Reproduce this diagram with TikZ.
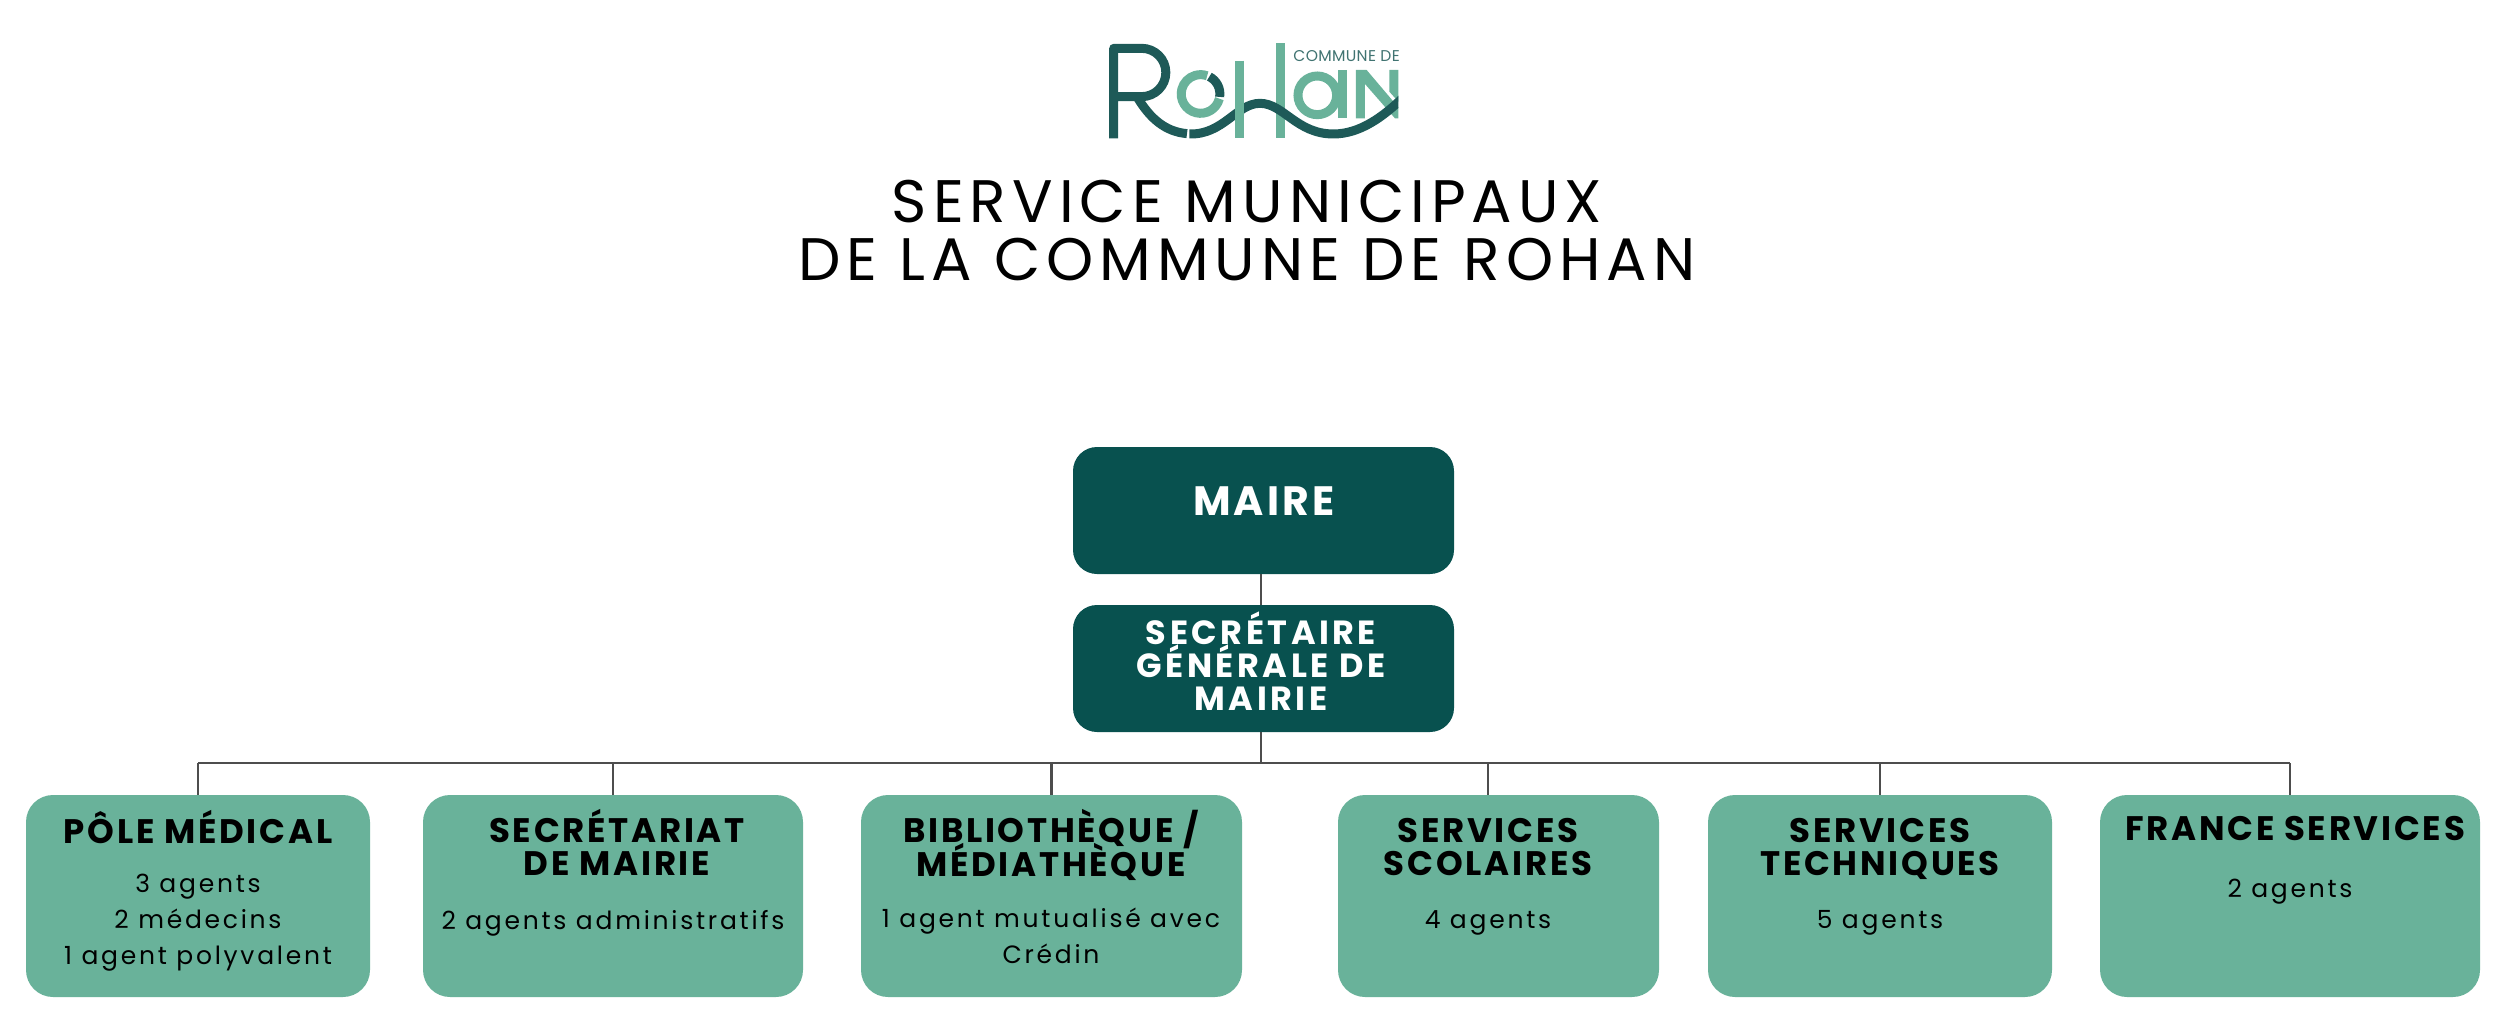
\documentclass[tikz,border=0pt]{standalone}
\usepackage{fontspec}
\setmainfont{Poppins}
\newfontfamily\ttlfont[LetterSpace=10]{Poppins}
\newfontfamily\headfont[LetterSpace=8]{Poppins}
\newfontfamily\subfont[LetterSpace=11]{Poppins}
\newfontfamily\bossfont[LetterSpace=8]{Poppins}
\newfontfamily\secfont[LetterSpace=10.5]{Poppins}
\newfontfamily\logofont[LetterSpace=2]{Poppins}
\definecolor{dark}{HTML}{08514F}
\definecolor{mid}{HTML}{69B29A}
\definecolor{logod}{HTML}{1E5A58}
\definecolor{wire}{HTML}{4D4D4D}
\tikzset{
 darkbox/.style={fill=dark,rounded corners=24pt,draw=none},
 midbox/.style={fill=mid,rounded corners=27pt,draw=none},
 link/.style={draw=wire,line width=2.5pt},
 headtxt/.style={font=\headfont\bfseries\fontsize{34}{33}\selectfont,align=center,text=black,inner sep=0pt},
 subtxt/.style={font=\subfont\fontsize{25}{36}\selectfont,align=center,text=black,inner sep=0pt},
 bosstxt/.style={font=\bossfont\bfseries\fontsize{41}{33}\selectfont,align=center,text=white,inner sep=0pt},
 sectxt/.style={font=\secfont\bfseries\fontsize{33.5}{33}\selectfont,align=center,text=white,inner sep=0pt},
 ttltxt/.style={font=\ttlfont\fontsize{60}{58}\selectfont,align=center,text=black,inner sep=0pt},
 logolight/.style={draw=mid,line width=9pt},
 logodark/.style={draw=logod,line width=9pt},
}
\begin{document}
\begin{tikzpicture}[x=1pt,y=-1pt]
\useasboundingbox (0,0) rectangle (2510,1024);
% logo
\begin{scope}[shift={(1050,20)},x=0.3333pt,y=-0.3333pt]
 \draw[logolight] (692,70) -- (692,355);
 \draw[logolight] (802,226) circle[radius=58];
 \draw[logolight] (877,150) -- (877,295);
 \fill[mid] (918,150) -- (950,150) -- (1045,262) -- (1045,295) -- (1035,295) -- (945,192) -- (945,295) -- (918,295) -- cycle;
 \fill[mid] (1018,150) -- (1045,150) -- (1045,245) -- (1018,215) -- cycle;
 \draw[logolight] (508,236) arc[start angle=14,end angle=290,radius=58];
 \draw[logodark] (478,170) arc[start angle=-63,end angle=9,radius=58];
 \draw[logodark,line join=round] (191,355) -- (191,85) -- (275,85) arc[start angle=-90,end angle=90,radius=72.5] -- (191,230);
 \draw[logodark] (262,232) .. controls (300,295) and (345,335) .. (411,341);
 \begin{scope}
  \clip (400,150) rectangle (1045,380);
  \draw[logodark] (418,342) .. controls (520,345) and (560,250) .. (630,250) .. controls (700,250) and (740,342) .. (850,342) .. controls (930,342) and (1000,290) .. (1060,232);
 \end{scope}
 \draw[logolight] (570,122) -- (570,355);
 \node[font=\logofont\fontsize{15.6}{15.6}\selectfont,text=logod!85,inner sep=0pt] (logotext) at (890,108) {COMMUNE DE};
\end{scope}
% title
\node[ttltxt] (title) at (1247,230.5) {SERVICE MUNICIPAUX\\DE LA COMMUNE DE ROHAN};
% boxes
\node[darkbox,minimum width=381pt,minimum height=127pt] (maire) at (1263.5,510.5) {};
\node[darkbox,minimum width=381pt,minimum height=127pt] (sec) at (1263.5,668.5) {};
\node[midbox,minimum width=344pt,minimum height=202pt] (pole) at (198,896) {};
\node[midbox,minimum width=380pt,minimum height=202pt] (secm) at (613,896) {};
\node[midbox,minimum width=381pt,minimum height=202pt] (bib) at (1051.5,896) {};
\node[midbox,minimum width=321pt,minimum height=202pt] (scol) at (1498.5,896) {};
\node[midbox,minimum width=344pt,minimum height=202pt] (tech) at (1880,896) {};
\node[midbox,minimum width=380pt,minimum height=202pt] (fr) at (2290,896) {};
% connectors
\coordinate (jn) at (1261,763);
\coordinate (jl) at (pole.north |- jn);
\coordinate (jr) at (fr.north |- jn);
\draw[link] (maire.south -| jn) -- (sec.north -| jn);
\draw[link] (sec.south -| jn) -- (jn);
\draw[link] (jl) -- (jr);
\draw[link] (jl) -- (pole.north);
\draw[link] (jn -| secm.north) -- (secm.north);
\draw[link] (jn -| bib.north) -- (bib.north);
\coordinate (c4) at (1488,763);
\draw[link] (c4) -- (c4 |- scol.north);
\draw[link] (jn -| tech.north) -- (tech.north);
\draw[link] (jr) -- (fr.north);
% texts
\node[bosstxt] (mairet) at (1264,501) {MAIRE};
\node[sectxt] (sect) at (1261,661.5) {SECRÉTAIRE\\GÉNÉRALE DE\\MAIRIE};
\node[headtxt] (h1) at (198,827) {PÔLE MÉDICAL};
\node[subtxt] (s1) at (198,923) {3 agents\\2 médecins\\1 agent polyvalent};
\node[headtxt] (h2) at (617,842.5) {SECRÉTARIAT\\DE MAIRIE};
\node[subtxt] (s2) at (613,923) {2 agents administratifs};
\node[headtxt] (h3) at (1051,845) {BIBLIOTHÈQUE \smash{/}\\[-5pt]MÉDIATHÈQUE};
\node[subtxt] (s3) at (1051,936) {1 agent mutualisé avec\\Crédin};
\node[headtxt] (h4) at (1488,847) {SERVICES\\SCOLAIRES};
\node[subtxt] (s4) at (1488,923) {4 agents};
\node[headtxt] (h5) at (1880,848.5) {SERVICES\\TECHNIQUES};
\node[subtxt] (s5) at (1880,923) {5 agents};
\node[headtxt] (h6) at (2295,829) {FRANCE SERVICES};
\node[subtxt] (s6) at (2290,892) {2 agents};
\end{tikzpicture}
\end{document}
